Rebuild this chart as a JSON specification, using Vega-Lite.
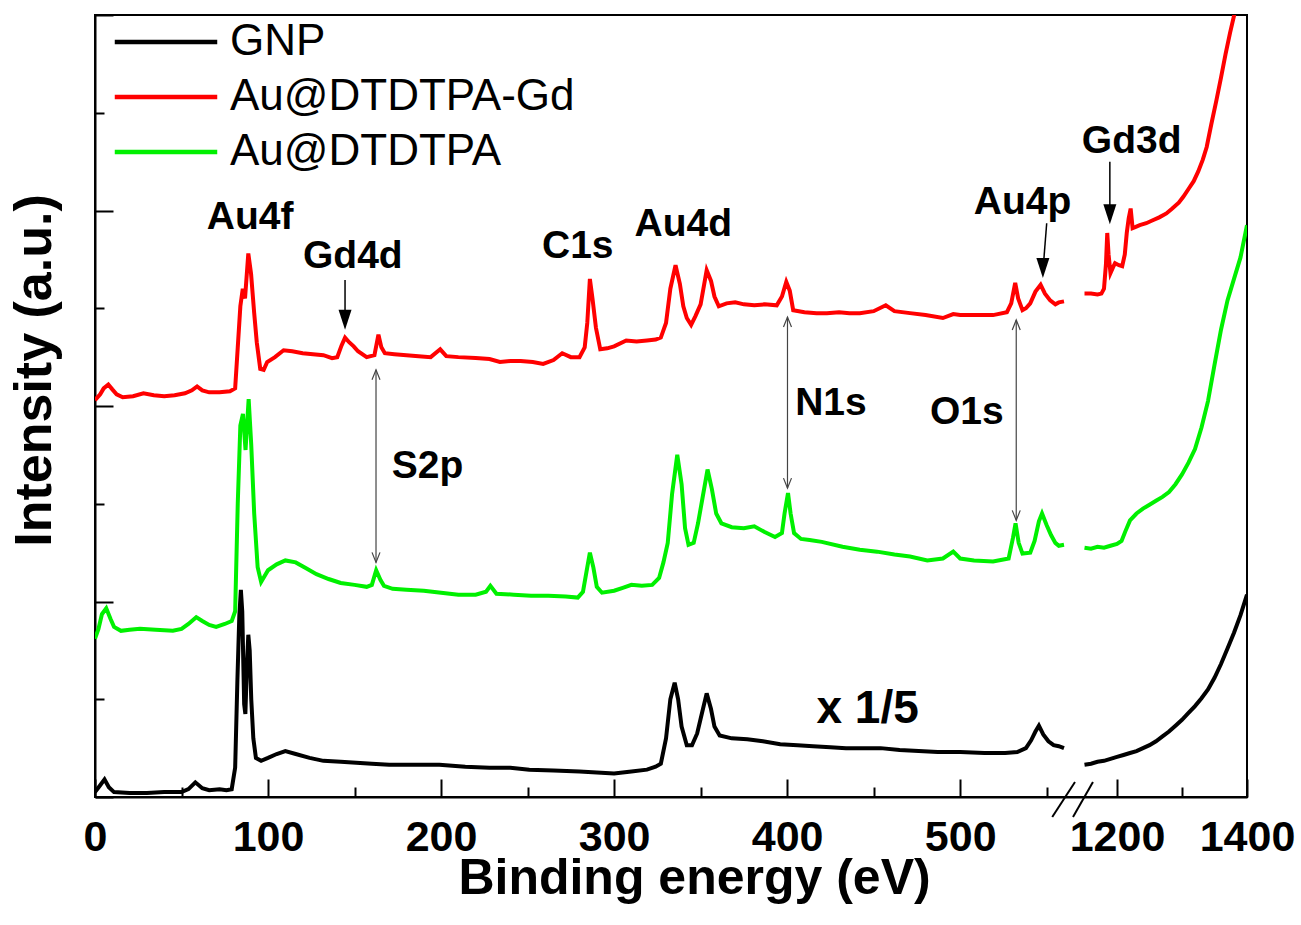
{
  "$schema": "https://vega.github.io/schema/vega-lite/v6.json",
  "width": 1152,
  "height": 782,
  "autosize": "none",
  "padding": {"left": 95, "top": 15, "right": 54, "bottom": 128},
  "background": "white",
  "config": {
    "view": {"stroke": "#000", "strokeWidth": 2},
    "font": "Liberation Sans",
    "axis": {"grid": false, "domainColor": "#000", "domainWidth": 2, "tickColor": "#000", "tickWidth": 2}
  },
  "datasets": {
    "spectra": [
      {"series":"GNP","seg":"L","e":0,"i":0.05},{"series":"GNP","seg":"L","e":3,"i":0.12},{"series":"GNP","seg":"L","e":5.5,"i":0.18},{"series":"GNP","seg":"L","e":8,"i":0.1},{"series":"GNP","seg":"L","e":11,"i":0.05},{"series":"GNP","seg":"L","e":20,"i":0.04},{"series":"GNP","seg":"L","e":30,"i":0.04},{"series":"GNP","seg":"L","e":40,"i":0.05},{"series":"GNP","seg":"L","e":50,"i":0.05},{"series":"GNP","seg":"L","e":54,"i":0.08},{"series":"GNP","seg":"L","e":58,"i":0.15},{"series":"GNP","seg":"L","e":62,"i":0.09},{"series":"GNP","seg":"L","e":66,"i":0.07},{"series":"GNP","seg":"L","e":72,"i":0.08},{"series":"GNP","seg":"L","e":76,"i":0.07},{"series":"GNP","seg":"L","e":79,"i":0.08},{"series":"GNP","seg":"L","e":81,"i":0.3},{"series":"GNP","seg":"L","e":82.3,"i":1.2},{"series":"GNP","seg":"L","e":83.4,"i":1.85},{"series":"GNP","seg":"L","e":84.3,"i":2.12},{"series":"GNP","seg":"L","e":85.1,"i":1.9},{"series":"GNP","seg":"L","e":86.2,"i":0.95},{"series":"GNP","seg":"L","e":86.9,"i":0.85},{"series":"GNP","seg":"L","e":87.8,"i":1.35},{"series":"GNP","seg":"L","e":88.6,"i":1.66},{"series":"GNP","seg":"L","e":89.4,"i":1.5},{"series":"GNP","seg":"L","e":90.3,"i":1.0},{"series":"GNP","seg":"L","e":91.5,"i":0.6},{"series":"GNP","seg":"L","e":93,"i":0.4},{"series":"GNP","seg":"L","e":96,"i":0.37},{"series":"GNP","seg":"L","e":100,"i":0.4},{"series":"GNP","seg":"L","e":105,"i":0.44},{"series":"GNP","seg":"L","e":110,"i":0.47},{"series":"GNP","seg":"L","e":116,"i":0.44},{"series":"GNP","seg":"L","e":124,"i":0.4},{"series":"GNP","seg":"L","e":132,"i":0.37},{"series":"GNP","seg":"L","e":142,"i":0.36},{"series":"GNP","seg":"L","e":151,"i":0.35},{"series":"GNP","seg":"L","e":160,"i":0.34},{"series":"GNP","seg":"L","e":170,"i":0.33},{"series":"GNP","seg":"L","e":185,"i":0.33},{"series":"GNP","seg":"L","e":199,"i":0.33},{"series":"GNP","seg":"L","e":214,"i":0.31},{"series":"GNP","seg":"L","e":228,"i":0.3},{"series":"GNP","seg":"L","e":240,"i":0.3},{"series":"GNP","seg":"L","e":251,"i":0.28},{"series":"GNP","seg":"L","e":265,"i":0.27},{"series":"GNP","seg":"L","e":280,"i":0.26},{"series":"GNP","seg":"L","e":290,"i":0.25},{"series":"GNP","seg":"L","e":300,"i":0.24},{"series":"GNP","seg":"L","e":310,"i":0.26},{"series":"GNP","seg":"L","e":319,"i":0.28},{"series":"GNP","seg":"L","e":324,"i":0.31},{"series":"GNP","seg":"L","e":327,"i":0.34},{"series":"GNP","seg":"L","e":330,"i":0.6},{"series":"GNP","seg":"L","e":332.5,"i":1.0},{"series":"GNP","seg":"L","e":335,"i":1.17},{"series":"GNP","seg":"L","e":337,"i":1.0},{"series":"GNP","seg":"L","e":339,"i":0.72},{"series":"GNP","seg":"L","e":342,"i":0.53},{"series":"GNP","seg":"L","e":345,"i":0.53},{"series":"GNP","seg":"L","e":348,"i":0.65},{"series":"GNP","seg":"L","e":350,"i":0.8},{"series":"GNP","seg":"L","e":353.5,"i":1.06},{"series":"GNP","seg":"L","e":356,"i":0.9},{"series":"GNP","seg":"L","e":358,"i":0.72},{"series":"GNP","seg":"L","e":361,"i":0.63},{"series":"GNP","seg":"L","e":368,"i":0.6},{"series":"GNP","seg":"L","e":377,"i":0.59},{"series":"GNP","seg":"L","e":386,"i":0.57},{"series":"GNP","seg":"L","e":396,"i":0.54},{"series":"GNP","seg":"L","e":406,"i":0.53},{"series":"GNP","seg":"L","e":415,"i":0.52},{"series":"GNP","seg":"L","e":425,"i":0.51},{"series":"GNP","seg":"L","e":434,"i":0.5},{"series":"GNP","seg":"L","e":444,"i":0.5},{"series":"GNP","seg":"L","e":454,"i":0.5},{"series":"GNP","seg":"L","e":465,"i":0.48},{"series":"GNP","seg":"L","e":476,"i":0.47},{"series":"GNP","seg":"L","e":487,"i":0.46},{"series":"GNP","seg":"L","e":500,"i":0.46},{"series":"GNP","seg":"L","e":514,"i":0.45},{"series":"GNP","seg":"L","e":526,"i":0.45},{"series":"GNP","seg":"L","e":533,"i":0.46},{"series":"GNP","seg":"L","e":538,"i":0.5},{"series":"GNP","seg":"L","e":541,"i":0.58},{"series":"GNP","seg":"L","e":543.5,"i":0.67},{"series":"GNP","seg":"L","e":545.5,"i":0.73},{"series":"GNP","seg":"L","e":548,"i":0.64},{"series":"GNP","seg":"L","e":551,"i":0.57},{"series":"GNP","seg":"L","e":554,"i":0.53},{"series":"GNP","seg":"L","e":557,"i":0.52},{"series":"GNP","seg":"L","e":560,"i":0.5},
      {"series":"GNP","seg":"R","e":1150,"i":0.33},{"series":"GNP","seg":"R","e":1160,"i":0.34},{"series":"GNP","seg":"R","e":1170,"i":0.36},{"series":"GNP","seg":"R","e":1180,"i":0.37},{"series":"GNP","seg":"R","e":1190,"i":0.39},{"series":"GNP","seg":"R","e":1200,"i":0.41},{"series":"GNP","seg":"R","e":1210,"i":0.43},{"series":"GNP","seg":"R","e":1220,"i":0.45},{"series":"GNP","seg":"R","e":1230,"i":0.47},{"series":"GNP","seg":"R","e":1240,"i":0.5},{"series":"GNP","seg":"R","e":1250,"i":0.53},{"series":"GNP","seg":"R","e":1260,"i":0.57},{"series":"GNP","seg":"R","e":1270,"i":0.62},{"series":"GNP","seg":"R","e":1280,"i":0.67},{"series":"GNP","seg":"R","e":1290,"i":0.73},{"series":"GNP","seg":"R","e":1300,"i":0.79},{"series":"GNP","seg":"R","e":1310,"i":0.86},{"series":"GNP","seg":"R","e":1320,"i":0.93},{"series":"GNP","seg":"R","e":1330,"i":1.01},{"series":"GNP","seg":"R","e":1340,"i":1.1},{"series":"GNP","seg":"R","e":1350,"i":1.22},{"series":"GNP","seg":"R","e":1360,"i":1.36},{"series":"GNP","seg":"R","e":1370,"i":1.52},{"series":"GNP","seg":"R","e":1380,"i":1.68},{"series":"GNP","seg":"R","e":1390,"i":1.86},{"series":"GNP","seg":"R","e":1400,"i":2.07},
      {"series":"Au@DTDTPA","seg":"L","e":0,"i":1.62},{"series":"Au@DTDTPA","seg":"L","e":2,"i":1.72},{"series":"Au@DTDTPA","seg":"L","e":4,"i":1.87},{"series":"Au@DTDTPA","seg":"L","e":6.5,"i":1.93},{"series":"Au@DTDTPA","seg":"L","e":9,"i":1.82},{"series":"Au@DTDTPA","seg":"L","e":11,"i":1.74},{"series":"Au@DTDTPA","seg":"L","e":15,"i":1.7},{"series":"Au@DTDTPA","seg":"L","e":20,"i":1.71},{"series":"Au@DTDTPA","seg":"L","e":26,"i":1.72},{"series":"Au@DTDTPA","seg":"L","e":35,"i":1.71},{"series":"Au@DTDTPA","seg":"L","e":45,"i":1.7},{"series":"Au@DTDTPA","seg":"L","e":50,"i":1.72},{"series":"Au@DTDTPA","seg":"L","e":54,"i":1.77},{"series":"Au@DTDTPA","seg":"L","e":58.5,"i":1.84},{"series":"Au@DTDTPA","seg":"L","e":62,"i":1.8},{"series":"Au@DTDTPA","seg":"L","e":66,"i":1.76},{"series":"Au@DTDTPA","seg":"L","e":70,"i":1.74},{"series":"Au@DTDTPA","seg":"L","e":75,"i":1.77},{"series":"Au@DTDTPA","seg":"L","e":79,"i":1.8},{"series":"Au@DTDTPA","seg":"L","e":81,"i":1.9},{"series":"Au@DTDTPA","seg":"L","e":82.5,"i":3.0},{"series":"Au@DTDTPA","seg":"L","e":84,"i":3.8},{"series":"Au@DTDTPA","seg":"L","e":85.5,"i":3.92},{"series":"Au@DTDTPA","seg":"L","e":87,"i":3.55},{"series":"Au@DTDTPA","seg":"L","e":88.8,"i":4.07},{"series":"Au@DTDTPA","seg":"L","e":90.3,"i":3.6},{"series":"Au@DTDTPA","seg":"L","e":92,"i":2.9},{"series":"Au@DTDTPA","seg":"L","e":94,"i":2.35},{"series":"Au@DTDTPA","seg":"L","e":96,"i":2.2},{"series":"Au@DTDTPA","seg":"L","e":100,"i":2.32},{"series":"Au@DTDTPA","seg":"L","e":105,"i":2.38},{"series":"Au@DTDTPA","seg":"L","e":110,"i":2.42},{"series":"Au@DTDTPA","seg":"L","e":116,"i":2.4},{"series":"Au@DTDTPA","seg":"L","e":122,"i":2.34},{"series":"Au@DTDTPA","seg":"L","e":128,"i":2.28},{"series":"Au@DTDTPA","seg":"L","e":135,"i":2.23},{"series":"Au@DTDTPA","seg":"L","e":142,"i":2.19},{"series":"Au@DTDTPA","seg":"L","e":150,"i":2.17},{"series":"Au@DTDTPA","seg":"L","e":157,"i":2.15},{"series":"Au@DTDTPA","seg":"L","e":160,"i":2.17},{"series":"Au@DTDTPA","seg":"L","e":162.5,"i":2.32},{"series":"Au@DTDTPA","seg":"L","e":165,"i":2.22},{"series":"Au@DTDTPA","seg":"L","e":167,"i":2.16},{"series":"Au@DTDTPA","seg":"L","e":172,"i":2.13},{"series":"Au@DTDTPA","seg":"L","e":180,"i":2.12},{"series":"Au@DTDTPA","seg":"L","e":190,"i":2.11},{"series":"Au@DTDTPA","seg":"L","e":200,"i":2.09},{"series":"Au@DTDTPA","seg":"L","e":210,"i":2.07},{"series":"Au@DTDTPA","seg":"L","e":220,"i":2.07},{"series":"Au@DTDTPA","seg":"L","e":226,"i":2.1},{"series":"Au@DTDTPA","seg":"L","e":228.5,"i":2.16},{"series":"Au@DTDTPA","seg":"L","e":232,"i":2.08},{"series":"Au@DTDTPA","seg":"L","e":242,"i":2.07},{"series":"Au@DTDTPA","seg":"L","e":252,"i":2.06},{"series":"Au@DTDTPA","seg":"L","e":262,"i":2.06},{"series":"Au@DTDTPA","seg":"L","e":272,"i":2.05},{"series":"Au@DTDTPA","seg":"L","e":279,"i":2.04},{"series":"Au@DTDTPA","seg":"L","e":282,"i":2.1},{"series":"Au@DTDTPA","seg":"L","e":284,"i":2.3},{"series":"Au@DTDTPA","seg":"L","e":286,"i":2.5},{"series":"Au@DTDTPA","seg":"L","e":288,"i":2.35},{"series":"Au@DTDTPA","seg":"L","e":290,"i":2.15},{"series":"Au@DTDTPA","seg":"L","e":293,"i":2.09},{"series":"Au@DTDTPA","seg":"L","e":300,"i":2.11},{"series":"Au@DTDTPA","seg":"L","e":305,"i":2.14},{"series":"Au@DTDTPA","seg":"L","e":310,"i":2.17},{"series":"Au@DTDTPA","seg":"L","e":316,"i":2.16},{"series":"Au@DTDTPA","seg":"L","e":322,"i":2.17},{"series":"Au@DTDTPA","seg":"L","e":326,"i":2.24},{"series":"Au@DTDTPA","seg":"L","e":328.5,"i":2.4},{"series":"Au@DTDTPA","seg":"L","e":331,"i":2.6},{"series":"Au@DTDTPA","seg":"L","e":333.5,"i":3.1},{"series":"Au@DTDTPA","seg":"L","e":336.5,"i":3.5},{"series":"Au@DTDTPA","seg":"L","e":339,"i":3.2},{"series":"Au@DTDTPA","seg":"L","e":341,"i":2.75},{"series":"Au@DTDTPA","seg":"L","e":343,"i":2.58},{"series":"Au@DTDTPA","seg":"L","e":346,"i":2.6},{"series":"Au@DTDTPA","seg":"L","e":348.5,"i":2.8},{"series":"Au@DTDTPA","seg":"L","e":351,"i":3.05},{"series":"Au@DTDTPA","seg":"L","e":354,"i":3.35},{"series":"Au@DTDTPA","seg":"L","e":356.5,"i":3.15},{"series":"Au@DTDTPA","seg":"L","e":359,"i":2.9},{"series":"Au@DTDTPA","seg":"L","e":362,"i":2.8},{"series":"Au@DTDTPA","seg":"L","e":368,"i":2.76},{"series":"Au@DTDTPA","seg":"L","e":375,"i":2.75},{"series":"Au@DTDTPA","seg":"L","e":381,"i":2.77},{"series":"Au@DTDTPA","seg":"L","e":387,"i":2.71},{"series":"Au@DTDTPA","seg":"L","e":393,"i":2.66},{"series":"Au@DTDTPA","seg":"L","e":397,"i":2.7},{"series":"Au@DTDTPA","seg":"L","e":398.5,"i":2.9},{"series":"Au@DTDTPA","seg":"L","e":400.5,"i":3.11},{"series":"Au@DTDTPA","seg":"L","e":402,"i":2.9},{"series":"Au@DTDTPA","seg":"L","e":404,"i":2.7},{"series":"Au@DTDTPA","seg":"L","e":408,"i":2.64},{"series":"Au@DTDTPA","seg":"L","e":413,"i":2.63},{"series":"Au@DTDTPA","seg":"L","e":420,"i":2.61},{"series":"Au@DTDTPA","seg":"L","e":432,"i":2.56},{"series":"Au@DTDTPA","seg":"L","e":442,"i":2.53},{"series":"Au@DTDTPA","seg":"L","e":452,"i":2.51},{"series":"Au@DTDTPA","seg":"L","e":462,"i":2.48},{"series":"Au@DTDTPA","seg":"L","e":471,"i":2.46},{"series":"Au@DTDTPA","seg":"L","e":481,"i":2.42},{"series":"Au@DTDTPA","seg":"L","e":490,"i":2.44},{"series":"Au@DTDTPA","seg":"L","e":496,"i":2.51},{"series":"Au@DTDTPA","seg":"L","e":500,"i":2.44},{"series":"Au@DTDTPA","seg":"L","e":508,"i":2.42},{"series":"Au@DTDTPA","seg":"L","e":519,"i":2.41},{"series":"Au@DTDTPA","seg":"L","e":528,"i":2.44},{"series":"Au@DTDTPA","seg":"L","e":530.5,"i":2.65},{"series":"Au@DTDTPA","seg":"L","e":532,"i":2.8},{"series":"Au@DTDTPA","seg":"L","e":533.8,"i":2.6},{"series":"Au@DTDTPA","seg":"L","e":536,"i":2.49},{"series":"Au@DTDTPA","seg":"L","e":540.5,"i":2.5},{"series":"Au@DTDTPA","seg":"L","e":543,"i":2.62},{"series":"Au@DTDTPA","seg":"L","e":545.5,"i":2.82},{"series":"Au@DTDTPA","seg":"L","e":547.3,"i":2.9},{"series":"Au@DTDTPA","seg":"L","e":550,"i":2.78},{"series":"Au@DTDTPA","seg":"L","e":552.5,"i":2.68},{"series":"Au@DTDTPA","seg":"L","e":555,"i":2.6},{"series":"Au@DTDTPA","seg":"L","e":557,"i":2.57},{"series":"Au@DTDTPA","seg":"L","e":560,"i":2.58},
      {"series":"Au@DTDTPA","seg":"R","e":1150,"i":2.55},{"series":"Au@DTDTPA","seg":"R","e":1160,"i":2.54},{"series":"Au@DTDTPA","seg":"R","e":1170,"i":2.56},{"series":"Au@DTDTPA","seg":"R","e":1180,"i":2.55},{"series":"Au@DTDTPA","seg":"R","e":1190,"i":2.57},{"series":"Au@DTDTPA","seg":"R","e":1200,"i":2.59},{"series":"Au@DTDTPA","seg":"R","e":1207,"i":2.62},{"series":"Au@DTDTPA","seg":"R","e":1213,"i":2.72},{"series":"Au@DTDTPA","seg":"R","e":1220,"i":2.83},{"series":"Au@DTDTPA","seg":"R","e":1230,"i":2.9},{"series":"Au@DTDTPA","seg":"R","e":1240,"i":2.95},{"series":"Au@DTDTPA","seg":"R","e":1250,"i":2.99},{"series":"Au@DTDTPA","seg":"R","e":1260,"i":3.03},{"series":"Au@DTDTPA","seg":"R","e":1270,"i":3.07},{"series":"Au@DTDTPA","seg":"R","e":1280,"i":3.12},{"series":"Au@DTDTPA","seg":"R","e":1290,"i":3.2},{"series":"Au@DTDTPA","seg":"R","e":1300,"i":3.3},{"series":"Au@DTDTPA","seg":"R","e":1310,"i":3.42},{"series":"Au@DTDTPA","seg":"R","e":1320,"i":3.56},{"series":"Au@DTDTPA","seg":"R","e":1330,"i":3.78},{"series":"Au@DTDTPA","seg":"R","e":1340,"i":4.05},{"series":"Au@DTDTPA","seg":"R","e":1350,"i":4.42},{"series":"Au@DTDTPA","seg":"R","e":1360,"i":4.78},{"series":"Au@DTDTPA","seg":"R","e":1370,"i":5.08},{"series":"Au@DTDTPA","seg":"R","e":1380,"i":5.3},{"series":"Au@DTDTPA","seg":"R","e":1390,"i":5.52},{"series":"Au@DTDTPA","seg":"R","e":1400,"i":5.85},
      {"series":"Au@DTDTPA-Gd","seg":"L","e":0,"i":4.06},{"series":"Au@DTDTPA-Gd","seg":"L","e":3,"i":4.12},{"series":"Au@DTDTPA-Gd","seg":"L","e":5,"i":4.18},{"series":"Au@DTDTPA-Gd","seg":"L","e":7.7,"i":4.22},{"series":"Au@DTDTPA-Gd","seg":"L","e":10,"i":4.17},{"series":"Au@DTDTPA-Gd","seg":"L","e":12.5,"i":4.12},{"series":"Au@DTDTPA-Gd","seg":"L","e":16,"i":4.09},{"series":"Au@DTDTPA-Gd","seg":"L","e":22,"i":4.1},{"series":"Au@DTDTPA-Gd","seg":"L","e":28,"i":4.13},{"series":"Au@DTDTPA-Gd","seg":"L","e":34,"i":4.11},{"series":"Au@DTDTPA-Gd","seg":"L","e":40,"i":4.1},{"series":"Au@DTDTPA-Gd","seg":"L","e":46,"i":4.11},{"series":"Au@DTDTPA-Gd","seg":"L","e":52,"i":4.13},{"series":"Au@DTDTPA-Gd","seg":"L","e":56,"i":4.16},{"series":"Au@DTDTPA-Gd","seg":"L","e":59,"i":4.2},{"series":"Au@DTDTPA-Gd","seg":"L","e":62,"i":4.16},{"series":"Au@DTDTPA-Gd","seg":"L","e":66,"i":4.14},{"series":"Au@DTDTPA-Gd","seg":"L","e":72,"i":4.14},{"series":"Au@DTDTPA-Gd","seg":"L","e":78,"i":4.15},{"series":"Au@DTDTPA-Gd","seg":"L","e":81,"i":4.18},{"series":"Au@DTDTPA-Gd","seg":"L","e":82.5,"i":4.6},{"series":"Au@DTDTPA-Gd","seg":"L","e":84,"i":5.02},{"series":"Au@DTDTPA-Gd","seg":"L","e":85.4,"i":5.2},{"series":"Au@DTDTPA-Gd","seg":"L","e":86.7,"i":5.1},{"series":"Au@DTDTPA-Gd","seg":"L","e":88.6,"i":5.56},{"series":"Au@DTDTPA-Gd","seg":"L","e":90.2,"i":5.35},{"series":"Au@DTDTPA-Gd","seg":"L","e":92,"i":4.95},{"series":"Au@DTDTPA-Gd","seg":"L","e":93.5,"i":4.65},{"series":"Au@DTDTPA-Gd","seg":"L","e":95.5,"i":4.38},{"series":"Au@DTDTPA-Gd","seg":"L","e":97.5,"i":4.37},{"series":"Au@DTDTPA-Gd","seg":"L","e":99.5,"i":4.45},{"series":"Au@DTDTPA-Gd","seg":"L","e":104,"i":4.5},{"series":"Au@DTDTPA-Gd","seg":"L","e":109,"i":4.57},{"series":"Au@DTDTPA-Gd","seg":"L","e":114,"i":4.56},{"series":"Au@DTDTPA-Gd","seg":"L","e":120,"i":4.54},{"series":"Au@DTDTPA-Gd","seg":"L","e":126,"i":4.53},{"series":"Au@DTDTPA-Gd","seg":"L","e":132,"i":4.52},{"series":"Au@DTDTPA-Gd","seg":"L","e":137,"i":4.49},{"series":"Au@DTDTPA-Gd","seg":"L","e":140,"i":4.5},{"series":"Au@DTDTPA-Gd","seg":"L","e":142.5,"i":4.62},{"series":"Au@DTDTPA-Gd","seg":"L","e":144.5,"i":4.7},{"series":"Au@DTDTPA-Gd","seg":"L","e":147,"i":4.65},{"series":"Au@DTDTPA-Gd","seg":"L","e":149.5,"i":4.61},{"series":"Au@DTDTPA-Gd","seg":"L","e":152,"i":4.56},{"series":"Au@DTDTPA-Gd","seg":"L","e":157,"i":4.5},{"series":"Au@DTDTPA-Gd","seg":"L","e":161.5,"i":4.52},{"series":"Au@DTDTPA-Gd","seg":"L","e":163.8,"i":4.73},{"series":"Au@DTDTPA-Gd","seg":"L","e":165.5,"i":4.6},{"series":"Au@DTDTPA-Gd","seg":"L","e":167.5,"i":4.54},{"series":"Au@DTDTPA-Gd","seg":"L","e":173,"i":4.53},{"series":"Au@DTDTPA-Gd","seg":"L","e":180,"i":4.52},{"series":"Au@DTDTPA-Gd","seg":"L","e":187,"i":4.51},{"series":"Au@DTDTPA-Gd","seg":"L","e":194,"i":4.5},{"series":"Au@DTDTPA-Gd","seg":"L","e":199.5,"i":4.58},{"series":"Au@DTDTPA-Gd","seg":"L","e":203,"i":4.51},{"series":"Au@DTDTPA-Gd","seg":"L","e":210,"i":4.5},{"series":"Au@DTDTPA-Gd","seg":"L","e":220,"i":4.49},{"series":"Au@DTDTPA-Gd","seg":"L","e":228,"i":4.48},{"series":"Au@DTDTPA-Gd","seg":"L","e":234,"i":4.45},{"series":"Au@DTDTPA-Gd","seg":"L","e":240,"i":4.46},{"series":"Au@DTDTPA-Gd","seg":"L","e":246,"i":4.46},{"series":"Au@DTDTPA-Gd","seg":"L","e":253,"i":4.45},{"series":"Au@DTDTPA-Gd","seg":"L","e":259,"i":4.43},{"series":"Au@DTDTPA-Gd","seg":"L","e":265,"i":4.47},{"series":"Au@DTDTPA-Gd","seg":"L","e":270,"i":4.54},{"series":"Au@DTDTPA-Gd","seg":"L","e":275,"i":4.5},{"series":"Au@DTDTPA-Gd","seg":"L","e":280,"i":4.5},{"series":"Au@DTDTPA-Gd","seg":"L","e":283,"i":4.6},{"series":"Au@DTDTPA-Gd","seg":"L","e":284.5,"i":4.85},{"series":"Au@DTDTPA-Gd","seg":"L","e":286,"i":5.3},{"series":"Au@DTDTPA-Gd","seg":"L","e":287.5,"i":5.1},{"series":"Au@DTDTPA-Gd","seg":"L","e":289.5,"i":4.8},{"series":"Au@DTDTPA-Gd","seg":"L","e":292,"i":4.58},{"series":"Au@DTDTPA-Gd","seg":"L","e":296,"i":4.59},{"series":"Au@DTDTPA-Gd","seg":"L","e":300,"i":4.61},{"series":"Au@DTDTPA-Gd","seg":"L","e":307,"i":4.67},{"series":"Au@DTDTPA-Gd","seg":"L","e":313,"i":4.66},{"series":"Au@DTDTPA-Gd","seg":"L","e":319,"i":4.67},{"series":"Au@DTDTPA-Gd","seg":"L","e":324,"i":4.68},{"series":"Au@DTDTPA-Gd","seg":"L","e":327,"i":4.7},{"series":"Au@DTDTPA-Gd","seg":"L","e":330,"i":4.85},{"series":"Au@DTDTPA-Gd","seg":"L","e":332.5,"i":5.2},{"series":"Au@DTDTPA-Gd","seg":"L","e":335.5,"i":5.44},{"series":"Au@DTDTPA-Gd","seg":"L","e":338,"i":5.25},{"series":"Au@DTDTPA-Gd","seg":"L","e":340,"i":5.02},{"series":"Au@DTDTPA-Gd","seg":"L","e":342,"i":4.9},{"series":"Au@DTDTPA-Gd","seg":"L","e":344.5,"i":4.83},{"series":"Au@DTDTPA-Gd","seg":"L","e":347,"i":4.92},{"series":"Au@DTDTPA-Gd","seg":"L","e":350,"i":5.04},{"series":"Au@DTDTPA-Gd","seg":"L","e":353.5,"i":5.39},{"series":"Au@DTDTPA-Gd","seg":"L","e":356,"i":5.28},{"series":"Au@DTDTPA-Gd","seg":"L","e":358,"i":5.12},{"series":"Au@DTDTPA-Gd","seg":"L","e":360.5,"i":5.02},{"series":"Au@DTDTPA-Gd","seg":"L","e":365,"i":5.05},{"series":"Au@DTDTPA-Gd","seg":"L","e":370,"i":5.06},{"series":"Au@DTDTPA-Gd","seg":"L","e":375,"i":5.04},{"series":"Au@DTDTPA-Gd","seg":"L","e":381,"i":5.03},{"series":"Au@DTDTPA-Gd","seg":"L","e":387,"i":5.04},{"series":"Au@DTDTPA-Gd","seg":"L","e":394,"i":5.03},{"series":"Au@DTDTPA-Gd","seg":"L","e":397,"i":5.12},{"series":"Au@DTDTPA-Gd","seg":"L","e":399.5,"i":5.27},{"series":"Au@DTDTPA-Gd","seg":"L","e":401.5,"i":5.18},{"series":"Au@DTDTPA-Gd","seg":"L","e":403.5,"i":4.98},{"series":"Au@DTDTPA-Gd","seg":"L","e":410,"i":4.96},{"series":"Au@DTDTPA-Gd","seg":"L","e":417,"i":4.95},{"series":"Au@DTDTPA-Gd","seg":"L","e":423,"i":4.95},{"series":"Au@DTDTPA-Gd","seg":"L","e":430,"i":4.96},{"series":"Au@DTDTPA-Gd","seg":"L","e":436,"i":4.95},{"series":"Au@DTDTPA-Gd","seg":"L","e":442,"i":4.95},{"series":"Au@DTDTPA-Gd","seg":"L","e":450,"i":4.97},{"series":"Au@DTDTPA-Gd","seg":"L","e":457,"i":5.03},{"series":"Au@DTDTPA-Gd","seg":"L","e":462,"i":4.97},{"series":"Au@DTDTPA-Gd","seg":"L","e":471,"i":4.95},{"series":"Au@DTDTPA-Gd","seg":"L","e":480,"i":4.93},{"series":"Au@DTDTPA-Gd","seg":"L","e":490,"i":4.9},{"series":"Au@DTDTPA-Gd","seg":"L","e":496,"i":4.94},{"series":"Au@DTDTPA-Gd","seg":"L","e":500,"i":4.93},{"series":"Au@DTDTPA-Gd","seg":"L","e":510,"i":4.93},{"series":"Au@DTDTPA-Gd","seg":"L","e":519,"i":4.93},{"series":"Au@DTDTPA-Gd","seg":"L","e":527,"i":4.96},{"series":"Au@DTDTPA-Gd","seg":"L","e":529.5,"i":5.05},{"series":"Au@DTDTPA-Gd","seg":"L","e":531.8,"i":5.26},{"series":"Au@DTDTPA-Gd","seg":"L","e":533.5,"i":5.1},{"series":"Au@DTDTPA-Gd","seg":"L","e":536,"i":4.98},{"series":"Au@DTDTPA-Gd","seg":"L","e":538,"i":5.0},{"series":"Au@DTDTPA-Gd","seg":"L","e":540.5,"i":5.05},{"series":"Au@DTDTPA-Gd","seg":"L","e":543.5,"i":5.17},{"series":"Au@DTDTPA-Gd","seg":"L","e":546.5,"i":5.24},{"series":"Au@DTDTPA-Gd","seg":"L","e":549,"i":5.15},{"series":"Au@DTDTPA-Gd","seg":"L","e":552,"i":5.08},{"series":"Au@DTDTPA-Gd","seg":"L","e":555,"i":5.04},{"series":"Au@DTDTPA-Gd","seg":"L","e":557,"i":5.06},{"series":"Au@DTDTPA-Gd","seg":"L","e":560,"i":5.07},
      {"series":"Au@DTDTPA-Gd","seg":"R","e":1150,"i":5.15},{"series":"Au@DTDTPA-Gd","seg":"R","e":1160,"i":5.15},{"series":"Au@DTDTPA-Gd","seg":"R","e":1170,"i":5.14},{"series":"Au@DTDTPA-Gd","seg":"R","e":1176,"i":5.15},{"series":"Au@DTDTPA-Gd","seg":"R","e":1180,"i":5.2},{"series":"Au@DTDTPA-Gd","seg":"R","e":1183,"i":5.45},{"series":"Au@DTDTPA-Gd","seg":"R","e":1185,"i":5.77},{"series":"Au@DTDTPA-Gd","seg":"R","e":1187,"i":5.55},{"series":"Au@DTDTPA-Gd","seg":"R","e":1190,"i":5.36},{"series":"Au@DTDTPA-Gd","seg":"R","e":1194,"i":5.42},{"series":"Au@DTDTPA-Gd","seg":"R","e":1197,"i":5.46},{"series":"Au@DTDTPA-Gd","seg":"R","e":1203,"i":5.44},{"series":"Au@DTDTPA-Gd","seg":"R","e":1208,"i":5.43},{"series":"Au@DTDTPA-Gd","seg":"R","e":1212,"i":5.55},{"series":"Au@DTDTPA-Gd","seg":"R","e":1215,"i":5.77},{"series":"Au@DTDTPA-Gd","seg":"R","e":1218,"i":5.92},{"series":"Au@DTDTPA-Gd","seg":"R","e":1221,"i":6.02},{"series":"Au@DTDTPA-Gd","seg":"R","e":1224,"i":5.82},{"series":"Au@DTDTPA-Gd","seg":"R","e":1228,"i":5.83},{"series":"Au@DTDTPA-Gd","seg":"R","e":1235,"i":5.85},{"series":"Au@DTDTPA-Gd","seg":"R","e":1245,"i":5.87},{"series":"Au@DTDTPA-Gd","seg":"R","e":1255,"i":5.9},{"series":"Au@DTDTPA-Gd","seg":"R","e":1265,"i":5.93},{"series":"Au@DTDTPA-Gd","seg":"R","e":1276,"i":5.97},{"series":"Au@DTDTPA-Gd","seg":"R","e":1285,"i":6.02},{"series":"Au@DTDTPA-Gd","seg":"R","e":1295,"i":6.08},{"series":"Au@DTDTPA-Gd","seg":"R","e":1302,"i":6.14},{"series":"Au@DTDTPA-Gd","seg":"R","e":1310,"i":6.22},{"series":"Au@DTDTPA-Gd","seg":"R","e":1318,"i":6.3},{"series":"Au@DTDTPA-Gd","seg":"R","e":1325,"i":6.4},{"series":"Au@DTDTPA-Gd","seg":"R","e":1332,"i":6.52},{"series":"Au@DTDTPA-Gd","seg":"R","e":1338,"i":6.65},{"series":"Au@DTDTPA-Gd","seg":"R","e":1345,"i":6.88},{"series":"Au@DTDTPA-Gd","seg":"R","e":1353,"i":7.13},{"series":"Au@DTDTPA-Gd","seg":"R","e":1360,"i":7.36},{"series":"Au@DTDTPA-Gd","seg":"R","e":1367,"i":7.6},{"series":"Au@DTDTPA-Gd","seg":"R","e":1374,"i":7.82},{"series":"Au@DTDTPA-Gd","seg":"R","e":1381,"i":8.02},{"series":"Au@DTDTPA-Gd","seg":"R","e":1390,"i":8.3}
    ],
    "labels": [
      {"label":"Au4f","kind":"peak","e":89.6,"i":5.93},
      {"label":"Gd4d","kind":"peak","e":149,"i":5.53},
      {"label":"C1s","kind":"peak","e":279,"i":5.64},
      {"label":"Au4d","kind":"peak","e":340,"i":5.86},
      {"label":"Au4p","kind":"peak","e":536,"i":6.09},
      {"label":"Gd3d","kind":"peak","e":1222.6,"i":6.71},
      {"label":"S2p","kind":"peak","e":192.2,"i":3.39},
      {"label":"N1s","kind":"peak","e":425.3,"i":4.03},
      {"label":"O1s","kind":"peak","e":503.8,"i":3.94},
      {"label":"x 1/5","kind":"note","e":446.5,"i":0.9}
    ],
    "arrows": [
      {"name":"Gd4d","kind":"solid","e":144.5,"i":5.29,"e2":144.5,"i2":4.9},
      {"name":"Au4p","kind":"solid","e":550,"i":5.87,"e2":548,"i2":5.42},
      {"name":"Gd3d","kind":"solid","e":1189,"i":6.5,"e2":1189,"i2":5.98},
      {"name":"S2p","kind":"thin","e":162.4,"i":4.37,"e2":162.4,"i2":2.4},
      {"name":"N1s","kind":"thin","e":400.2,"i":4.91,"e2":400.2,"i2":3.16},
      {"name":"O1s","kind":"thin","e":532.4,"i":4.88,"e2":532.4,"i2":2.83}
    ],
    "heads": [
      {"name":"Gd4d","dir":"solid","e":144.5,"i":4.78},
      {"name":"Au4p","dir":"solid","e":547.8,"i":5.31},
      {"name":"Gd3d","dir":"solid","e":1189,"i":5.86},
      {"name":"S2p","dir":"up","e":162.4,"i":4.37},
      {"name":"N1s","dir":"up","e":400.2,"i":4.91},
      {"name":"O1s","dir":"up","e":532.4,"i":4.88},
      {"name":"S2p","dir":"down","e":162.4,"i":2.4},
      {"name":"N1s","dir":"down","e":400.2,"i":3.16},
      {"name":"O1s","dir":"down","e":532.4,"i":2.83}
    ],
    "breaks": [
      {"e":553.2,"i":-0.205,"e2":876.6,"i2":0.153},
      {"e":819,"i":-0.205,"e2":1163,"i2":0.153}
    ]
  },
  "encoding": {
    "x": {
      "field": "e", "type": "quantitative",
      "scale": {"domain": [0, 560, 1150, 1400], "range": [0, 969, 989.5, 1152], "nice": false, "zero": false},
      "axis": {
        "title": "Binding energy (eV)",
        "values": [0, 50, 100, 150, 200, 250, 300, 350, 400, 450, 500, 550, 1200, 1300, 1400],
        "format": "d",
        "labelExpr": "indexof([0,100,200,300,400,500,1200,1400], datum.value) >= 0 ? datum.label : ''",
        "tickSize": {"condition": {"test": "indexof([0,100,200,300,400,500,1200,1400], datum.value) >= 0", "value": -18}, "value": -10},
        "labelPadding": 37,
        "labelFont": "Liberation Sans", "labelFontSize": 43, "labelFontWeight": "bold", "labelColor": "#000",
        "labelOverlap": false, "labelFlush": false, "labelBound": false,
        "titleFont": "Liberation Sans", "titleFontSize": 50, "titleFontWeight": "bold", "titleColor": "#000",
        "titleX": 599, "titleY": 96, "titleBaseline": "alphabetic", "titleAlign": "center", "titleAnchor": null
      }
    },
    "y": {
      "field": "i", "type": "quantitative",
      "scale": {"domain": [0, 8], "nice": false, "zero": false},
      "axis": {
        "title": "Intensity (a.u.)",
        "values": [0, 1, 2, 3, 4, 5, 6, 7, 8],
        "labels": false,
        "tickSize": {"condition": {"test": "datum.value % 2 === 0", "value": -18}, "value": -9},
        "titleFont": "Liberation Sans", "titleFontSize": 52, "titleFontWeight": "bold", "titleColor": "#000",
        "titleAngle": -90, "titleX": -45, "titleY": 355, "titleBaseline": "alphabetic", "titleAlign": "center"
      }
    }
  },
  "layer": [
    {
      "data": {"name": "spectra"},
      "mark": {"type": "line", "strokeWidth": 4, "clip": true},
      "encoding": {
        "color": {
          "field": "series", "type": "nominal",
          "scale": {"domain": ["GNP", "Au@DTDTPA-Gd", "Au@DTDTPA"], "range": ["#000000", "#ff0000", "#00f000"]},
          "legend": {
            "title": null, "orient": "none", "legendX": 49, "legendY": 5, "padding": 0,
            "symbolType": "M-5,0H5", "symbolSize": 420, "symbolStrokeWidth": 4.5,
            "labelFont": "Liberation Sans", "labelFontSize": 44, "labelColor": "#000", "labelOffset": 42,
            "rowPadding": 11, "labelLimit": 0
          }
        },
        "detail": {"field": "seg"},
        "order": {"field": "e", "type": "quantitative"}
      }
    },
    {
      "data": {"name": "labels"},
      "transform": [{"filter": "datum.kind === 'peak'"}],
      "mark": {"type": "text", "font": "Liberation Sans", "fontSize": 39, "fontWeight": "bold", "color": "#000", "align": "center", "baseline": "middle"},
      "encoding": {"text": {"field": "label"}}
    },
    {
      "data": {"name": "labels"},
      "transform": [{"filter": "datum.kind === 'note'"}],
      "mark": {"type": "text", "font": "Liberation Sans", "fontSize": 46, "fontWeight": "bold", "color": "#000", "align": "center", "baseline": "middle"},
      "encoding": {"text": {"field": "label"}}
    },
    {
      "data": {"name": "arrows"},
      "transform": [{"filter": "datum.kind === 'solid'"}],
      "mark": {"type": "rule", "color": "#000", "strokeWidth": 1.5},
      "encoding": {"x2": {"field": "e2"}, "y2": {"field": "i2"}}
    },
    {
      "data": {"name": "arrows"},
      "transform": [{"filter": "datum.kind === 'thin'"}],
      "mark": {"type": "rule", "color": "#444", "strokeWidth": 1.2},
      "encoding": {"x2": {"field": "e2"}, "y2": {"field": "i2"}}
    },
    {
      "data": {"name": "heads"},
      "transform": [{"filter": "datum.dir === 'solid'"}],
      "mark": {"type": "point", "shape": "M-0.65,-2L0.65,-2L0,0Z", "size": 400, "filled": true, "color": "#000", "opacity": 1, "strokeWidth": 0}
    },
    {
      "data": {"name": "heads"},
      "transform": [{"filter": "datum.dir === 'up'"}],
      "mark": {"type": "point", "shape": "M-0.8,2L0,0L0.8,2", "size": 100, "filled": false, "color": "#444", "opacity": 1, "strokeWidth": 1.2}
    },
    {
      "data": {"name": "heads"},
      "transform": [{"filter": "datum.dir === 'down'"}],
      "mark": {"type": "point", "shape": "M-0.8,-2L0,0L0.8,-2", "size": 100, "filled": false, "color": "#444", "opacity": 1, "strokeWidth": 1.2}
    },
    {
      "data": {"name": "breaks"},
      "mark": {"type": "rule", "color": "#000", "strokeWidth": 2},
      "encoding": {"x2": {"field": "e2"}, "y2": {"field": "i2"}}
    }
  ]
}
